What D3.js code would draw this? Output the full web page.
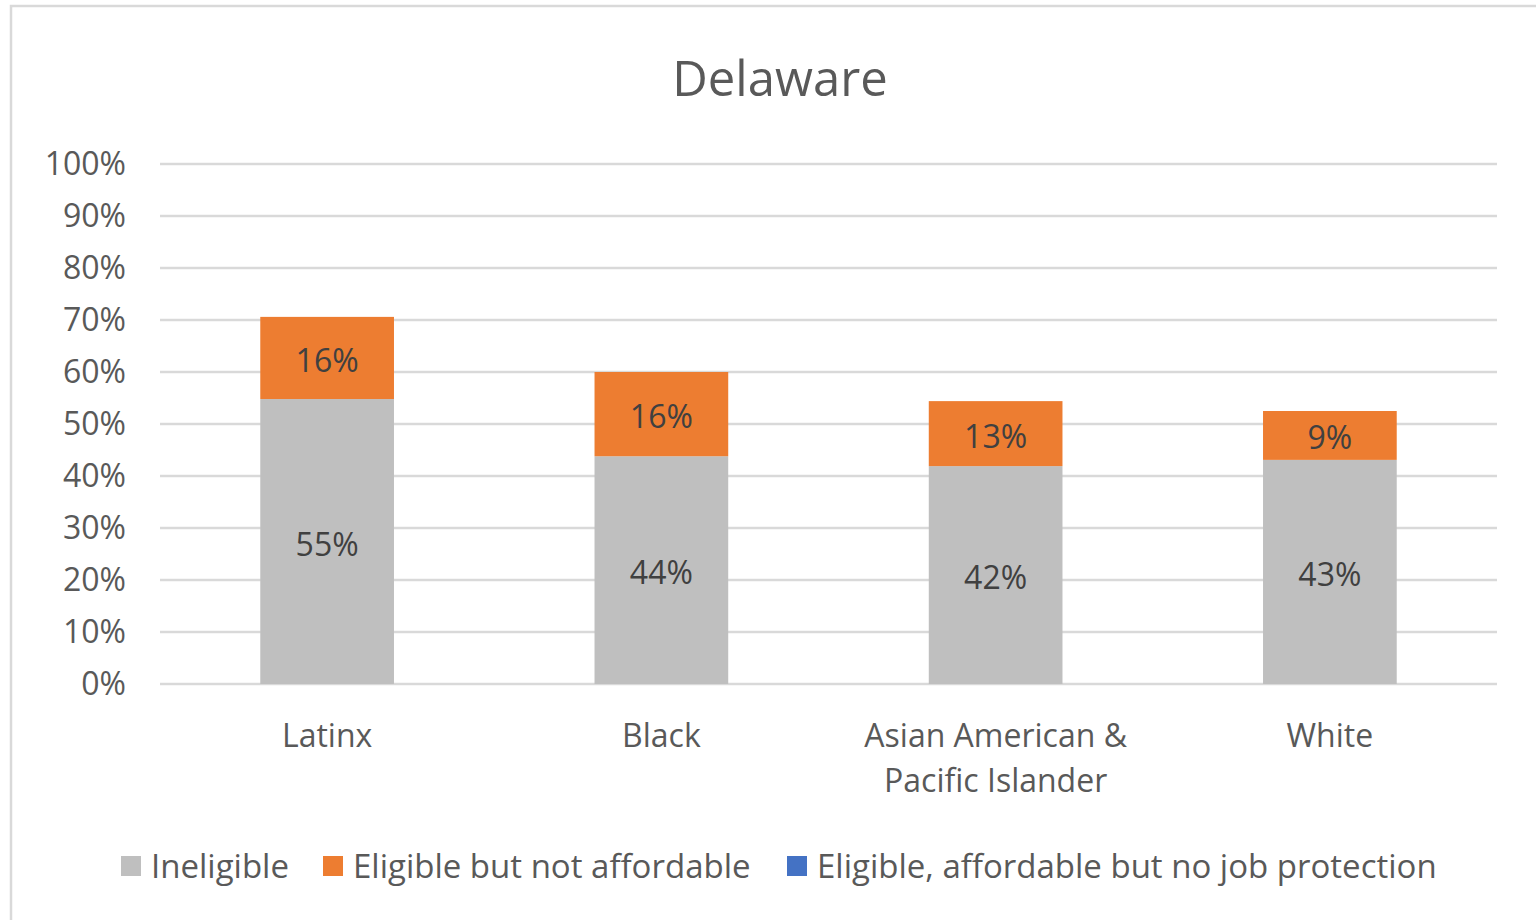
<!DOCTYPE html>
<html>
<head>
<meta charset="utf-8">
<script src="https://cdn.jsdelivr.net/npm/d3@7"></script>
<style>
  body { margin: 0; background: #fff; }
  text { font-family: "Open Sans", "Noto Sans", sans-serif; fill: #595959; }
</style>
</head>
<body>
<script>
// chart data
var categories = ["Latinx", "Black", "Asian American & Pacific Islander", "White"];
var catLines = [["Latinx"], ["Black"], ["Asian American &", "Pacific Islander"], ["White"]];
var seriesNames = ["Ineligible", "Eligible but not affordable", "Eligible, affordable but no job protection"];
var ineligible = [0.548, 0.438, 0.419, 0.431];
var notAffordable = [0.158, 0.162, 0.125, 0.094];
var noProtection = [0, 0, 0, 0];
var seriesColors = ["#bfbfbf", "#ed7d31", "#4472c4"];
var yTicks = [0, 0.1, 0.2, 0.3, 0.4, 0.5, 0.6, 0.7, 0.8, 0.9, 1];

var W = 1536, H = 920;
var plot = {left: 160, right: 1497, top: 164, bottom: 684};

var svg = d3.select("body").append("svg")
    .attr("width", W)
    .attr("height", H);

// outer frame
svg.append("rect")
    .attr("x", 11).attr("y", 6)
    .attr("width", W + 20).attr("height", H + 20)
    .attr("fill", "none")
    .attr("stroke", "#d9d9d9")
    .attr("stroke-width", 2.5);

svg.append("text")
    .attr("x", 780).attr("y", 96)
    .attr("text-anchor", "middle")
    .style("font-size", "49px")
    .text("Delaware");

var x = d3.scaleBand().domain(categories)
    .range([plot.left, plot.right])
    .paddingInner(0.6).paddingOuter(0.3);
var y = d3.scaleLinear().domain([0, 1]).range([plot.bottom, plot.top]);

// gridlines
svg.append("g").selectAll("line")
    .data(yTicks)
  .enter().append("line")
    .attr("x1", plot.left).attr("x2", plot.right)
    .attr("y1", function(d) { return y(d); })
    .attr("y2", function(d) { return y(d); })
    .attr("stroke", "#d9d9d9")
    .attr("stroke-width", 2.5);

// y axis labels
var yAxis = d3.axisLeft(y).tickValues(yTicks).tickFormat(d3.format(".0%")).tickSize(0).tickPadding(34);
var yg = svg.append("g").attr("transform", "translate(" + plot.left + ",0)").call(yAxis);
yg.select(".domain").remove();
yg.selectAll("text").style("font-size", "32px").attr("fill", "#595959").attr("font-family", null);

// stacked bars
var table = categories.map(function(c, i) {
  return {cat: c, s0: ineligible[i], s1: notAffordable[i], s2: noProtection[i]};
});
var stack = d3.stack().keys(["s0", "s1", "s2"])(table);

var layers = svg.append("g").selectAll("g")
    .data(stack)
  .enter().append("g")
    .attr("fill", function(d, i) { return seriesColors[i]; });

layers.selectAll("rect")
    .data(function(d) { return d; })
  .enter().append("rect")
    .attr("x", function(d) { return x(d.data.cat); })
    .attr("width", x.bandwidth())
    .attr("y", function(d) { return y(d[1]); })
    .attr("height", function(d) { return y(d[0]) - y(d[1]); });

// data labels
layers.filter(function(d, i) { return i < 2; }).selectAll("text")
    .data(function(d) { return d; })
  .enter().append("text")
    .attr("x", function(d) { return x(d.data.cat) + x.bandwidth() / 2; })
    .attr("y", function(d) { return (y(d[0]) + y(d[1])) / 2 + 14; })
    .attr("text-anchor", "middle")
    .style("font-size", "32px")
    .style("fill", "#404040")
    .text(function(d) { return Math.round((d[1] - d[0]) * 100) + "%"; });

// category labels
var cl = svg.append("g").selectAll("text")
    .data(categories)
  .enter().append("text")
    .attr("x", function(d) { return x(d) + x.bandwidth() / 2; })
    .attr("y", 747)
    .attr("text-anchor", "middle")
    .style("font-size", "32px");
cl.selectAll("tspan")
    .data(function(d, i) { return catLines[i]; })
  .enter().append("tspan")
    .attr("x", function() { return d3.select(this.parentNode).attr("x"); })
    .attr("dy", function(d, i) { return i === 0 ? 0 : 45; })
    .text(function(d) { return d; });

// legend
var legendX = [121, 323, 787];
var legend = svg.append("g").selectAll("g")
    .data(seriesNames)
  .enter().append("g")
    .attr("transform", function(d, i) { return "translate(" + legendX[i] + ",856)"; });
legend.append("rect")
    .attr("width", 20).attr("height", 20)
    .attr("fill", function(d, i) { return seriesColors[i]; });
legend.append("text")
    .attr("x", 30).attr("y", 22)
    .style("font-size", "33px")
    .text(function(d) { return d; });
</script>
</body>
</html>
